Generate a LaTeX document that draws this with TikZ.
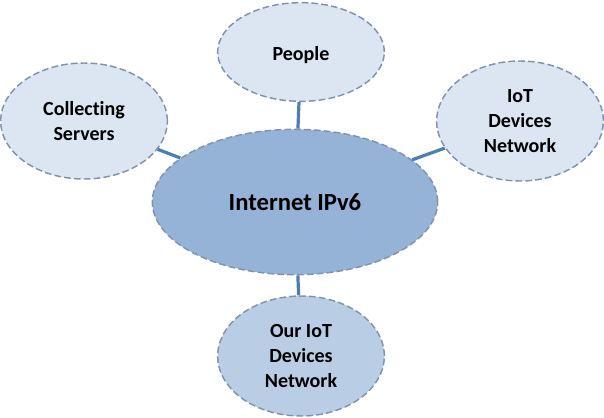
\documentclass[tikz,border=0pt]{standalone}
\usepackage{fontspec}
\setmainfont[Ligatures={NoCommon,NoRare,NoContextual}]{Carlito}
\usetikzlibrary{shapes.geometric}
\definecolor{lightfill}{HTML}{DCE6F2}
\definecolor{midfill}{HTML}{B9CDE5}
\definecolor{mainfill}{HTML}{95B3D7}
\definecolor{bordercol}{HTML}{7F93AD}
\definecolor{linkcol}{HTML}{4A7EBB}
\tikzset{
  bubble/.style={ellipse, draw=bordercol, line width=1.1pt, dash pattern=on 5pt off 2.4pt,
    inner sep=0pt, align=center, font=\fontsize{15}{18.8}\selectfont\bfseries},
  link/.style={draw=linkcol, line width=2.4pt}
}
\begin{document}
\begin{tikzpicture}[x=0.75pt,y=-0.75pt]
\useasboundingbox (0,0) rectangle (604,418);
\node[bubble, fill=mainfill, minimum width=214pt, minimum height=109pt,
  font=\fontsize{18.5}{22}\selectfont\bfseries] (inet) at (295,202) {Internet IPv6};
\node[bubble, fill=lightfill, minimum width=125pt, minimum height=74pt,
  text height=16.5pt, text depth=3.3pt] (people) at (301,52) {People};
\node[bubble, fill=lightfill, minimum width=125pt, minimum height=87pt] (coll) at (84,121) {Collecting\\Servers};
\node[bubble, fill=lightfill, minimum width=125pt, minimum height=90pt] (iot) at (520,121) {IoT\\Devices\\Network};
\node[bubble, fill=midfill, minimum width=125pt, minimum height=90pt] (our) at (301,356) {Our IoT\\Devices\\Network};
\draw[link] (people) -- (inet);
\draw[link] (coll) -- (inet);
\draw[link] (iot) -- (inet);
\draw[link] (our) -- (inet);
\end{tikzpicture}
\end{document}
